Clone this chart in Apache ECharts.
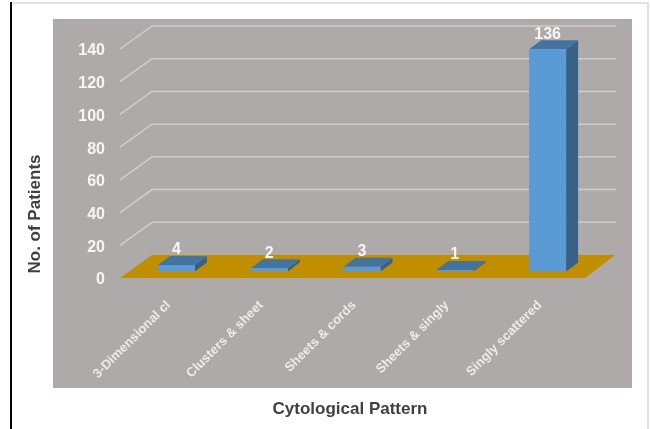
<!DOCTYPE html>
<html>
<head>
<meta charset="utf-8">
<style>html,body{margin:0;padding:0;background:#fff}#chart{width:650px;height:429px}</style>
<script src="https://cdn.jsdelivr.net/npm/echarts@6/dist/echarts.min.js"></script>
</head>
<body>
<div id="chart"></div>
<script>
const categories = ['3-Dimensional cl', 'Clusters & sheet', 'Sheets & cords', 'Sheets & singly', 'Singly scattered'];
const patients = [4, 2, 3, 1, 136];
const gridTicks = [0, 20, 40, 60, 80, 100, 120, 140];

const panelColor = '#aeaaa9';
const floorColor = '#bf8f00';
const wallLineColor = '#d0cdcc';
const barFront = '#5b9bd5';
const barTop = '#44739f';
const barSide = '#376187';

// Oblique projection of the pseudo-3D box
const wallDx = 32, wallDy = -23;
const barInsetDx = 10, barInsetDy = -6.4;
const barDx = 12, barDy = -9;
const barWidth = 37;

const chart = echarts.init(document.getElementById('chart'), null, { renderer: 'canvas' });

function renderWall(params, api) {
  const cs = params.coordSys;
  const y = api.coord([0, api.value(0)])[1];
  const x0 = cs.x;
  const x1 = cs.x + cs.width;
  if (api.value(0) === 0) {
    return {
      type: 'polygon',
      shape: { points: [[x0, y], [x1 + 1, y], [x1 + wallDx - 1, y + wallDy], [x0 + wallDx, y + wallDy]] },
      style: { fill: floorColor }
    };
  }
  return {
    type: 'polyline',
    shape: { points: [[x0, y], [x0 + wallDx, y + wallDy], [x1 + wallDx, y + wallDy]] },
    style: { stroke: wallLineColor, lineWidth: 1.5, fill: null }
  };
}

function renderBar(params, api) {
  const top = api.coord([api.value(0), api.value(1)]);
  const base = api.coord([api.value(0), 0]);
  const l = top[0] + barInsetDx - barWidth / 2;
  const r = l + barWidth;
  const t = top[1] + barInsetDy;
  const b = base[1] + barInsetDy;
  return {
    type: 'group',
    children: [
      { type: 'polygon', shape: { points: [[r, t], [r + barDx, t + barDy], [r + barDx, b + barDy], [r, b]] }, style: { fill: barSide } },
      { type: 'polygon', shape: { points: [[l, t], [r, t], [r + barDx, t + barDy], [l + barDx, t + barDy]] }, style: { fill: barTop } },
      { type: 'rect', shape: { x: l, y: t, width: barWidth, height: b - t }, style: { fill: barFront } },
      {
        type: 'text',
        style: {
          text: String(api.value(1)), x: (l + r) / 2, y: t - 15,
          align: 'center', verticalAlign: 'middle',
          font: 'bold 16px "Liberation Sans", Arial, sans-serif', fill: '#f6f6f6'
        }
      }
    ]
  };
}

chart.setOption({
  animation: false,
  backgroundColor: '#ffffff',
  graphic: [
    { type: 'rect', z: -10, shape: { x: 53, y: 19, width: 579, height: 369 }, style: { fill: panelColor } },
    { type: 'line', z: -10, shape: { x1: 13, y1: 3, x2: 649, y2: 3 }, style: { stroke: '#e0e0e0', lineWidth: 2 } },
    { type: 'line', z: -10, shape: { x1: 648, y1: 3, x2: 648, y2: 429 }, style: { stroke: '#e0e0e0', lineWidth: 2 } },
    { type: 'line', z: -9, shape: { x1: 11, y1: 2, x2: 11, y2: 429 }, style: { stroke: '#000', lineWidth: 2 } }
  ],
  grid: { left: 120, right: 66, top: 49, bottom: 151 },
  xAxis: {
    type: 'category',
    data: categories,
    name: 'Cytological Pattern',
    nameLocation: 'middle',
    nameGap: 123,
    nameTextStyle: {
      color: '#404040', fontSize: 17, fontWeight: 'bold', fontFamily: 'Liberation Sans',
      padding: [0, 4, 0, 0]
    },
    axisLine: { show: false },
    axisTick: { show: false },
    axisLabel: {
      interval: 0, rotate: 45, margin: 23, verticalAlign: 'top', lineHeight: 6,
      color: '#ebebeb', fontSize: 13, fontWeight: 'bold', fontFamily: 'Liberation Sans'
    }
  },
  yAxis: {
    type: 'value',
    min: 0, max: 140, interval: 20,
    name: 'No. of Patients',
    nameLocation: 'middle',
    nameGap: 76,
    nameTextStyle: {
      color: '#404040', fontSize: 17, fontWeight: 'bold', fontFamily: 'Liberation Sans',
      padding: [0, 101, 0, 0]
    },
    axisLine: { show: false },
    axisTick: { show: false },
    splitLine: { show: false },
    axisLabel: {
      margin: 15, verticalAlign: 'top', lineHeight: 4,
      color: '#f6f6f6', fontSize: 16, fontWeight: 'bold', fontFamily: 'Liberation Sans'
    }
  },
  series: [
    {
      type: 'custom',
      coordinateSystem: 'cartesian2d',
      renderItem: renderWall,
      data: gridTicks.map(v => [v]),
      encode: { y: 0 },
      clip: false,
      silent: true,
      z: 1
    },
    {
      type: 'custom',
      coordinateSystem: 'cartesian2d',
      renderItem: renderBar,
      data: categories.map((c, i) => [i, patients[i]]),
      encode: { x: 0, y: 1 },
      clip: false,
      z: 2
    }
  ]
});
</script>
</body>
</html>
